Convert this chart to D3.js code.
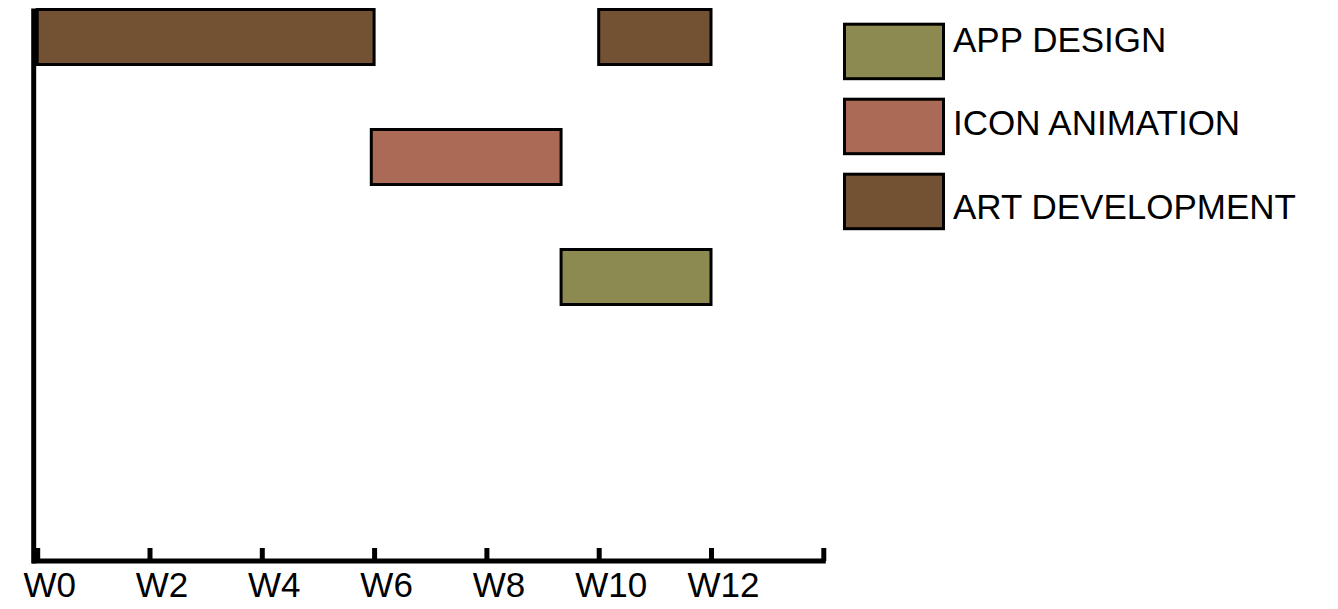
<!DOCTYPE html>
<html>
<head>
    <title>Project Timeline</title>
    <script src="https://d3js.org/d3.v7.min.js"></script>
    <style>
        body { margin: 0; background: #fff; }
        text { font-family: "Liberation Sans", Arial, Helvetica, sans-serif; fill: #000; }
    </style>
</head>
<body>
<div id="chart"></div>

<script>
    // rows from top to bottom
    var rows = ["ART DEVELOPMENT", "ICON ANIMATION", "APP DESIGN"];
    var legendOrder = ["APP DESIGN", "ICON ANIMATION", "ART DEVELOPMENT"];
    var colors = ["#735234", "#ab6a55", "#8c8a50"];

    // tasks: start / end in weeks
    var taskNames = ["ART DEVELOPMENT", "ART DEVELOPMENT", "ICON ANIMATION", "APP DESIGN"];
    var taskStart = [0, 10, 5.95, 9.33];
    var taskEnd = [6, 12, 9.33, 12];

    var tickWeeks = [0, 2, 4, 6, 8, 10, 12, 14];
    var tickLabels = ["W0", "W2", "W4", "W6", "W8", "W10", "W12", ""];

    var width = 1338;
    var height = 609;

    var svg = d3.select("#chart").append("svg")
        .attr("width", width)
        .attr("height", height);

    var x = d3.scaleLinear()
        .domain([0, 14])
        .range([37.2, 823.3]);

    // five lanes down the chart, only the first three used
    var y = d3.scaleBand()
        .domain(d3.range(5))
        .range([9.5, 544.5])
        .paddingInner(0.5417)
        .paddingOuter(0);

    var color = d3.scaleOrdinal()
        .domain(rows)
        .range(colors);

    var tasks = taskNames.map(function(n, i) {
        return { name: n, start: taskStart[i], end: taskEnd[i] };
    });

    var axisY = 561;

    // horizontal axis
    var xAxis = svg.append("g")
        .attr("class", "axis")
        .attr("transform", "translate(0," + axisY + ")")
        .call(d3.axisBottom(x)
            .tickValues(tickWeeks)
            .tickSize(-13)
            .tickSizeOuter(0)
            .tickFormat(function(d, i) { return tickLabels[i]; }));

    xAxis.select(".domain")
        .attr("d", "M" + (x(0) - 5) + ",0H" + (x(14) + 2.5))
        .attr("stroke", "#000")
        .attr("stroke-width", 5);

    xAxis.selectAll(".tick line")
        .attr("stroke", "#000")
        .attr("stroke-width", 5);

    // labels sit a little right of their ticks
    xAxis.selectAll(".tick text")
        .attr("dy", 0)
        .attr("y", 36)
        .attr("dx", 12)
        .style("font-size", "35px")
        .style("font-family", "'Liberation Sans', Arial, sans-serif")
        .attr("fill", "#000");

    // bars
    svg.selectAll(".bar")
        .data(tasks)
        .enter().append("rect")
        .attr("class", "bar")
        .attr("x", d => x(d.start))
        .attr("y", d => y(rows.indexOf(d.name)))
        .attr("width", d => x(d.end) - x(d.start))
        .attr("height", y.bandwidth())
        .attr("fill", d => color(d.name))
        .attr("stroke", "#000")
        .attr("stroke-width", 3);

    // vertical axis line
    svg.append("line")
        .attr("x1", x(0) - 3.5)
        .attr("x2", x(0) - 3.5)
        .attr("y1", 8.5)
        .attr("y2", axisY + 2.5)
        .attr("stroke", "#000")
        .attr("stroke-width", 5);

    // legend
    var legend = svg.append("g")
        .attr("class", "legend");

    var boxY = d3.scaleLinear().domain([0, 1]).range([24.2, 99.2]);
    var textY = d3.scaleLinear().domain([0, 1]).range([52, 135.3]);

    legend.selectAll("rect")
        .data(legendOrder)
        .enter().append("rect")
        .attr("x", 844.5)
        .attr("y", (d, i) => boxY(i))
        .attr("width", 99)
        .attr("height", 54.5)
        .attr("fill", d => color(d))
        .attr("stroke", "#000")
        .attr("stroke-width", 3);

    legend.selectAll("text")
        .data(legendOrder)
        .enter().append("text")
        .attr("x", 953)
        .attr("y", (d, i) => textY(i))
        .style("font-size", "35px")
        .text(d => d);
</script>
</body>
</html>
